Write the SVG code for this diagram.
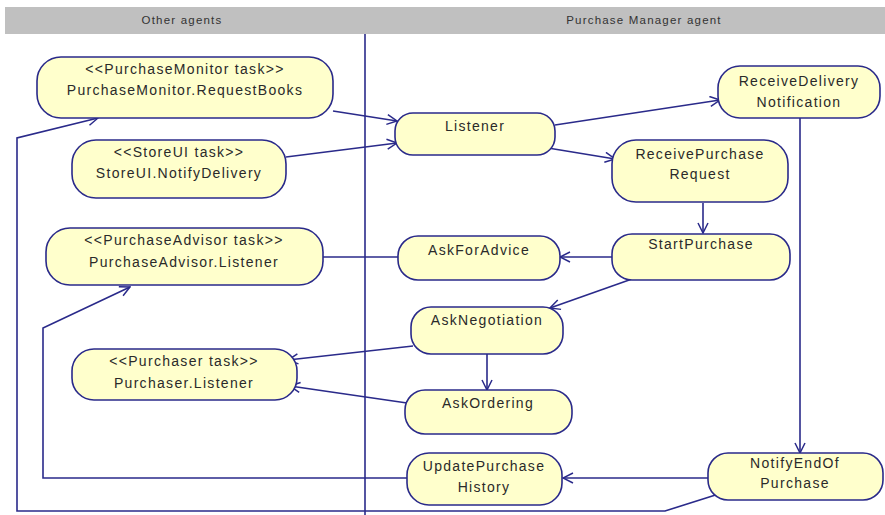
<svg xmlns="http://www.w3.org/2000/svg" width="885" height="515" viewBox="0 0 885 515">
<defs>
<style>
.n{fill:#ffffcc;stroke:#2a2a8a;stroke-width:1.6}
.t{font-family:"Liberation Sans",Arial,sans-serif;font-size:14px;letter-spacing:1.3px;fill:#2a2a2a;text-anchor:middle}
.h{font-family:"Liberation Sans",Arial,sans-serif;font-size:11.5px;letter-spacing:1.2px;fill:#333;text-anchor:middle}
.c{fill:none;stroke:#2a2a8a;stroke-width:1.6;marker-end:url(#a)}
</style>
<marker id="a" viewBox="0 0 12 12" refX="11" refY="6" markerWidth="12" markerHeight="12" markerUnits="userSpaceOnUse" orient="auto">
<path d="M1,1 L11,6 L1,11" fill="none" stroke="#2a2a8a" stroke-width="1.5"/>
</marker>
</defs>
<rect width="885" height="515" fill="#fff"/>
<g id="header">
<rect x="5" y="7" width="880" height="27" fill="#c0c0c0"/>
<text class="h" x="182" y="24">Other agents</text>
<text class="h" x="644" y="24">Purchase Manager agent</text>
</g>
<line id="divider" x1="365" y1="34" x2="365" y2="515" stroke="#2a2a8a" stroke-width="1.6"/>
<g id="connectors">
<path class="c" d="M333,111 L397,121"/>
<path class="c" d="M286,157 L397,143"/>
<path class="c" d="M555,125 L720,100"/>
<path class="c" d="M548,148 L615,159"/>
<path class="c" d="M703,203 L703,233"/>
<path class="c" d="M612,257 L560,257"/>
<path class="c" d="M398,257 L313,257"/>
<path class="c" d="M632,279 L550,308"/>
<path class="c" d="M413,346 L288,360"/>
<path class="c" d="M487,354 L487,390"/>
<path class="c" d="M407,403 L290,386"/>
<path class="c" d="M800,118 L800,453"/>
<path class="c" d="M710,478 L563,478"/>
<path class="c" d="M407,478 L43,478 L43,328 L130,287"/>
<path class="c" d="M725,492 L665,511 L17,511 L17,138 L98,118"/>
</g>
<g id="purchaseMonitor">
<rect class="n" x="37" y="57" width="296" height="61" rx="24"/>
<text class="t" x="185" y="74">&lt;&lt;PurchaseMonitor task&gt;&gt;</text>
<text class="t" x="185" y="95">PurchaseMonitor.RequestBooks</text>
</g>
<g id="storeUI">
<rect class="n" x="72" y="140" width="214" height="58" rx="24"/>
<text class="t" x="179" y="157">&lt;&lt;StoreUI task&gt;&gt;</text>
<text class="t" x="179" y="178">StoreUI.NotifyDelivery</text>
</g>
<g id="purchaseAdvisor">
<rect class="n" x="46" y="228" width="277" height="57" rx="24"/>
<text class="t" x="184" y="245">&lt;&lt;PurchaseAdvisor task&gt;&gt;</text>
<text class="t" x="184" y="267">PurchaseAdvisor.Listener</text>
</g>
<g id="purchaser">
<rect class="n" x="72" y="349" width="225" height="51" rx="22"/>
<text class="t" x="184" y="366">&lt;&lt;Purchaser task&gt;&gt;</text>
<text class="t" x="184" y="388">Purchaser.Listener</text>
</g>
<g id="listener">
<rect class="n" x="395" y="113" width="160" height="42" rx="18"/>
<text class="t" x="475" y="131">Listener</text>
</g>
<g id="receiveDelivery">
<rect class="n" x="718" y="66" width="162" height="52" rx="22"/>
<text class="t" x="799" y="86">ReceiveDelivery</text>
<text class="t" x="799" y="107">Notification</text>
</g>
<g id="receivePurchase">
<rect class="n" x="612" y="140" width="176" height="62" rx="24"/>
<text class="t" x="700" y="159">ReceivePurchase</text>
<text class="t" x="700" y="179">Request</text>
</g>
<g id="startPurchase">
<rect class="n" x="612" y="234" width="178" height="46" rx="20"/>
<text class="t" x="701" y="249">StartPurchase</text>
</g>
<g id="askForAdvice">
<rect class="n" x="398" y="236" width="162" height="44" rx="20"/>
<text class="t" x="479" y="255">AskForAdvice</text>
</g>
<g id="askNegotiation">
<rect class="n" x="411" y="307" width="152" height="47" rx="20"/>
<text class="t" x="487" y="325">AskNegotiation</text>
</g>
<g id="askOrdering">
<rect class="n" x="405" y="390" width="167" height="44" rx="20"/>
<text class="t" x="488" y="408">AskOrdering</text>
</g>
<g id="updatePurchaseHistory">
<rect class="n" x="407" y="453" width="155" height="52" rx="22"/>
<text class="t" x="484" y="471">UpdatePurchase</text>
<text class="t" x="484" y="492">History</text>
</g>
<g id="notifyEnd">
<rect class="n" x="708" y="453" width="175" height="47" rx="20"/>
<text class="t" x="795" y="468">NotifyEndOf</text>
<text class="t" x="795" y="488">Purchase</text>
</g>
</svg>
